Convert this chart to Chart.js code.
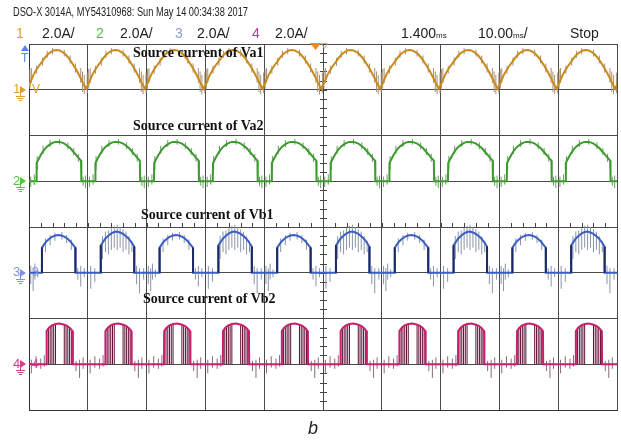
<!DOCTYPE html>
<html>
<head>
<meta charset="utf-8">
<script src="https://cdn.jsdelivr.net/npm/chart.js@4.4.0/dist/chart.umd.min.js"></script>
<style>
  body { margin: 0; background: #fff; width: 621px; height: 444px; overflow: hidden; position: relative;
         font-family: "Liberation Sans", "DejaVu Sans", sans-serif; }
  #scope { position: absolute; left: 0; top: 0; }
  .t { position: absolute; white-space: nowrap; color: #222; line-height: 1; }
  .narrow { transform: scaleX(0.74); transform-origin: left top; }
  .row2 { font-size: 14px; }
  .ann { position: absolute; white-space: nowrap; font-family: "Liberation Serif", "Times New Roman", serif;
         font-weight: bold; font-size: 14px; line-height: 14px; color: #111; }
  .sm { font-size: 8px; }
</style>
</head>
<body>
<canvas id="scope" width="621" height="444"></canvas>

<div class="t narrow" style="left:13px;top:6px;font-size:12.5px;">DSO-X 3014A, MY54310968: Sun May 14 00:34:38 2017</div>
<div class="t row2" style="left:16px;top:26px;color:#d9a32a;">1</div>
<div class="t row2" style="left:42px;top:26px;">2.0A/</div>
<div class="t row2" style="left:96px;top:26px;color:#5cb84c;">2</div>
<div class="t row2" style="left:120px;top:26px;">2.0A/</div>
<div class="t row2" style="left:175px;top:26px;color:#8b9ccc;">3</div>
<div class="t row2" style="left:197px;top:26px;">2.0A/</div>
<div class="t row2" style="left:252px;top:26px;color:#c0389a;">4</div>
<div class="t row2" style="left:275px;top:26px;">2.0A/</div>
<div class="t row2" style="left:401px;top:26px;">1.400<span class="sm">ms</span></div>
<div class="t row2" style="left:478px;top:26px;">10.00<span class="sm">ms</span>/</div>
<div class="t row2" style="left:570px;top:26px;">Stop</div>

<div class="ann" style="left:133px;top:46px;">Source current of Va1</div>
<div class="ann" style="left:133px;top:119px;">Source current of Va2</div>
<div class="ann" style="left:141px;top:208px;">Source current of Vb1</div>
<div class="ann" style="left:143px;top:292px;">Source current of Vb2</div>

<div class="t" style="left:13px;top:82px;font-size:13px;color:#e0a030;">1</div>
<div class="t" style="left:32px;top:83px;font-size:12px;color:#e0a030;">V</div>
<div class="t" style="left:13px;top:174px;font-size:13px;color:#5cbf4c;">2</div>
<div class="t" style="left:33px;top:175px;font-size:12px;color:#5cbf4c;">I</div>
<div class="t" style="left:13px;top:265px;font-size:13px;color:#7d92d8;">3</div>
<div class="t" style="left:32px;top:266px;font-size:12px;color:#7d92d8;">3</div>
<div class="t" style="left:13px;top:357px;font-size:13px;color:#d0408a;">4</div>
<div class="t" style="left:32px;top:358px;font-size:12px;color:#d0408a;">4</div>
<div class="t" style="left:21px;top:52px;font-size:12px;color:#5a86e0;">T</div>

<div class="t" style="left:308px;top:419px;font-size:18px;font-style:italic;color:#222;">b</div>

<script>
// screen: 10 ms/div, 2.0 A/div, 10 x 8 divisions
const timeDivs = [0, 10, 20, 30, 40, 50, 60, 70, 80, 90, 100];
const ampPerDiv = 2.0;
// ground level of each channel, in divisions from the screen centre
const groundDiv = [3, 1, -1, -3];

// ---- channel 1 (Va1): one 10 ms cycle, time in ms, current in A
const ch1T = [0, 0.5, 1, 1.5, 2, 2.5, 3, 3.5, 4, 4.5, 5, 5.5, 6, 6.5, 7, 7.5, 8, 8.5, 9, 9.5, 10];
const ch1A = [0.05, 0.3, 0.62, 0.85, 1.05, 1.22, 1.4, 1.55, 1.65, 1.72, 1.74, 1.72, 1.65, 1.55, 1.4, 1.22, 1.02, 0.8, 0.55, 0.28, 0.05];
const ch1SpikeT  = [0.2, 0.45, 0.7, 1.6, 2.6, 3.4, 4.3, 6.3, 7.3, 8.2, 9.1, 9.4, 9.7];
const ch1SpikeLo = [-0.15, 0.05, 0.3, 0.7, 1.05, 1.4, 1.55, 1.45, 1.15, 0.75, 0.3, -0.1, -0.2];
const ch1SpikeHi = [0.75, 0.9, 0.95, 1.05, 1.4, 1.7, 1.82, 1.75, 1.5, 1.15, 0.95, 0.8, 0.65];

// ---- channel 2 (Va2)
const ch2T = [0, 0.6, 1.25, 1.3, 1.6, 2, 2.5, 3, 3.5, 4, 4.5, 5, 5.5, 6, 6.5, 7, 7.5, 8, 8.5, 8.85, 8.9, 9.5, 10];
const ch2A = [0, 0, 0, 0.8, 0.95, 1.15, 1.35, 1.5, 1.6, 1.68, 1.72, 1.72, 1.7, 1.65, 1.55, 1.45, 1.3, 1.15, 1.0, 0.9, 0, 0, 0];
const ch2SpikeT  = [0.3, 0.9, 1.4, 2.4, 3.6, 5.2, 6.6, 7.6, 8.4, 9.2, 9.6];
const ch2SpikeLo = [-0.25, -0.15, 0.5, 1.2, 1.5, 1.6, 1.4, 1.15, 0.85, -0.2, -0.3];
const ch2SpikeHi = [0.2, 0.3, 1.1, 1.55, 1.8, 1.85, 1.7, 1.45, 1.2, 0.2, 0.25];

// ---- channel 3 (Vb1): 20 ms, a plain hump then a noisy one
const ch3T = [0, 2.2, 2.22, 2.6, 3, 3.5, 4, 4.5, 5, 5.5, 6, 6.5, 7, 7.5, 7.88, 7.9,
              10, 12.2, 12.22, 12.6, 13, 13.5, 14, 14.5, 15, 15.5, 16, 16.5, 17, 17.5, 17.88, 17.9, 20];
const ch3A = [0, 0, 1.1, 1.25, 1.38, 1.5, 1.58, 1.63, 1.65, 1.63, 1.58, 1.5, 1.38, 1.22, 1.1, 0,
              0, 0, 1.2, 1.35, 1.5, 1.62, 1.72, 1.78, 1.8, 1.76, 1.7, 1.6, 1.48, 1.3, 1.15, 0, 0];
const ch3EdgeT  = [2.2, 7.9, 12.2, 17.9];
const ch3EdgeHi = [1.1, 1.1, 1.2, 1.15];
const ch3SpikeT  = [0.3, 0.7, 1.0, 1.5, 2.8, 3.6, 4.4, 5.6, 6.4, 7.2, 8.3, 8.8, 9.4,
                    10.5, 11.2, 12.5, 13.0, 13.5, 14.0, 14.5, 15.0, 15.5, 16.0, 16.5, 17.0, 17.5, 18.3, 18.8, 19.5];
const ch3SpikeLo = [-0.5, -0.8, -0.3, -0.2, 0.9, 1.2, 1.4, 1.45, 1.3, 1.0, -0.3, -0.6, -0.2,
                    -0.7, -0.4, 0.6, 0.9, 0.8, 1.0, 1.1, 1.0, 1.1, 0.9, 1.0, 0.8, 0.9, -0.5, -0.9, -0.3];
const ch3SpikeHi = [0.3, 0.2, 0.4, 0.15, 1.5, 1.65, 1.75, 1.78, 1.65, 1.45, 0.2, 0.3, 0.2,
                    0.3, 0.2, 1.6, 1.8, 1.85, 1.95, 2.05, 2.1, 2.0, 1.9, 1.8, 1.6, 1.4, 0.3, 0.2, 0.2];

// ---- channel 4 (Vb2)
const ch4T = [0, 2.95, 3.0, 3.4, 3.9, 4.5, 5.2, 5.9, 6.5, 7.0, 7.4, 7.45, 10];
const ch4A = [0, 0, 1.45, 1.6, 1.7, 1.76, 1.78, 1.74, 1.68, 1.58, 1.45, 0, 0];
const ch4ChopT  = [3.0, 3.3, 3.6, 3.9, 4.2, 4.5, 6.0, 6.3, 6.6, 6.9, 7.2, 7.45];
const ch4ChopHi = [1.45, 1.55, 1.62, 1.7, 1.72, 1.75, 1.74, 1.7, 1.66, 1.6, 1.5, 1.45];
const ch4SpikeT  = [0.4, 1.2, 2.0, 2.6, 8.0, 8.6, 9.2];
const ch4SpikeLo = [-0.4, -0.15, -0.2, -0.1, -0.3, -0.6, -0.2];
const ch4SpikeHi = [0.2, 0.35, 0.25, 0.4, 0.15, 0.2, 0.3];

const ch1Shift = -0.3;
const ch2Shift = 0;
const ch3Shift = 0;
const ch4Shift = 0;

function toDiv(ch, a) {
  return groundDiv[ch] + a / ampPerDiv;
}

function trace(ch, T, A, period, shift) {
  let out = [];
  for (let k = -1; k * period < 100 + period; k++) {
    for (let i = 0; i < T.length; i++) {
      out.push({ x: k * period + T[i] + shift, y: toDiv(ch, A[i]) });
    }
  }
  return out;
}

function spikes(ch, T, lo, hi, period, shift) {
  let out = [];
  for (let k = -1; k * period < 100 + period; k++) {
    for (let i = 0; i < T.length; i++) {
      let x = k * period + T[i] + shift;
      out.push({ x: x, y: toDiv(ch, lo[i]) });
      out.push({ x: x, y: toDiv(ch, hi[i]) });
      out.push({ x: x, y: null });
    }
  }
  return out;
}

function zeros(n) {
  return new Array(n).fill(0);
}

function ds(data, color, width, order) {
  return { data: data, borderColor: color, borderWidth: width, order: order, pointRadius: 0, spanGaps: false, fill: false };
}

const datasets = [
  ds(trace(0, ch1T, ch1A, 10, ch1Shift), "#c98a1e", 2, 1),
  ds(spikes(0, ch1SpikeT, ch1SpikeLo, ch1SpikeHi, 10, ch1Shift), "#a89070", 1, 3),

  ds(trace(1, ch2T, ch2A, 10, ch2Shift), "#3c9a2e", 2, 1),
  ds(spikes(1, ch2SpikeT, ch2SpikeLo, ch2SpikeHi, 10, ch2Shift), "#6f9a68", 1, 3),

  ds(trace(2, ch3T, ch3A, 20, ch3Shift), "#3a5fc4", 2, 1),
  ds(spikes(2, ch3EdgeT, zeros(ch3EdgeT.length), ch3EdgeHi, 20, ch3Shift), "#1c2a60", 2, 0),
  ds(spikes(2, ch3SpikeT, ch3SpikeLo, ch3SpikeHi, 20, ch3Shift), "#8a94a8", 1, 3),

  ds(trace(3, ch4T, ch4A, 10, ch4Shift), "#c81f6e", 2, 1),
  ds(spikes(3, ch4ChopT, zeros(ch4ChopT.length), ch4ChopHi, 10, ch4Shift), "#5c0f33", 1, 2),
  ds(spikes(3, ch4SpikeT, ch4SpikeLo, ch4SpikeHi, 10, ch4Shift), "#8a6a7a", 1, 3),
];

// minor ticks on the centre axes, probe markers, trigger markers
const scopeMarks = {
  id: "scopeMarks",
  beforeDatasetsDraw(chart) {
    const c = chart.ctx;
    const xs = chart.scales.x;
    const ys = chart.scales.y;
    const cx = xs.getPixelForValue(50);
    const cy = ys.getPixelForValue(0);
    c.save();
    c.strokeStyle = "#444";
    c.lineWidth = 1;
    c.beginPath();
    for (let t = 0; t <= 100; t += 2) {
      let px = Math.round(xs.getPixelForValue(t)) + 0.5;
      c.moveTo(px, cy - 4);
      c.lineTo(px, cy);
    }
    for (let d = -4; d <= 4; d += 0.2) {
      let py = Math.round(ys.getPixelForValue(d)) + 0.5;
      c.moveTo(cx - 3, py);
      c.lineTo(cx + 4, py);
    }
    c.stroke();
    c.restore();
  },
  afterDraw(chart) {
    const c = chart.ctx;
    const ys = chart.scales.y;
    const cols = ["#e0a030", "#5cbf4c", "#7d92d8", "#d0408a"];
    c.save();
    for (let i = 0; i < 4; i++) {
      let y = Math.round(ys.getPixelForValue(groundDiv[i]));
      c.fillStyle = cols[i];
      c.strokeStyle = cols[i];
      c.lineWidth = 1;
      c.beginPath();
      c.moveTo(20, y - 4);
      c.lineTo(26, y);
      c.lineTo(20, y + 4);
      c.closePath();
      c.fill();
      c.beginPath();
      c.moveTo(20.5, y);
      c.lineTo(20.5, y + 6);
      c.moveTo(16, y + 6.5);
      c.lineTo(25, y + 6.5);
      c.moveTo(17.5, y + 8.5);
      c.lineTo(23.5, y + 8.5);
      c.moveTo(19, y + 10.5);
      c.lineTo(22, y + 10.5);
      c.stroke();
    }
    // trigger level arrow
    c.fillStyle = "#5a86e0";
    c.beginPath();
    c.moveTo(25, 45);
    c.lineTo(21, 51);
    c.lineTo(29, 51);
    c.closePath();
    c.fill();
    // trigger time marker
    c.fillStyle = "#f08a20";
    c.beginPath();
    c.moveTo(310, 43);
    c.lineTo(321, 43);
    c.lineTo(315.5, 50);
    c.closePath();
    c.fill();
    c.strokeStyle = "#f0a060";
    c.beginPath();
    c.moveTo(321.5, 43.5);
    c.lineTo(327.5, 43.5);
    c.lineTo(324.5, 48.5);
    c.closePath();
    c.stroke();
    c.restore();
  }
};

let scope = new Chart(document.getElementById("scope"), {
  type: "line",
  data: { datasets: datasets },
  options: {
    responsive: false,
    animation: false,
    events: [],
    layout: { padding: { left: 29, top: 44, right: 4, bottom: 34 } },
    plugins: { legend: { display: false }, tooltip: { enabled: false } },
    elements: { line: { tension: 0 }, point: { radius: 0 } },
    scales: {
      x: {
        type: "linear",
        min: timeDivs[0],
        max: timeDivs[timeDivs.length - 1],
        afterBuildTicks: (axis) => { axis.ticks = timeDivs.map((v) => ({ value: v })); },
        ticks: { display: false },
        grid: { color: "#4a4a4a", lineWidth: 1, drawTicks: false },
        border: { color: "#333", width: 1 }
      },
      y: {
        type: "linear",
        min: -4,
        max: 4,
        ticks: { display: false, stepSize: 1 },
        grid: { color: "#4a4a4a", lineWidth: 1, drawTicks: false },
        border: { color: "#333", width: 1 }
      }
    }
  },
  plugins: [scopeMarks]
});
</script>
</body>
</html>
